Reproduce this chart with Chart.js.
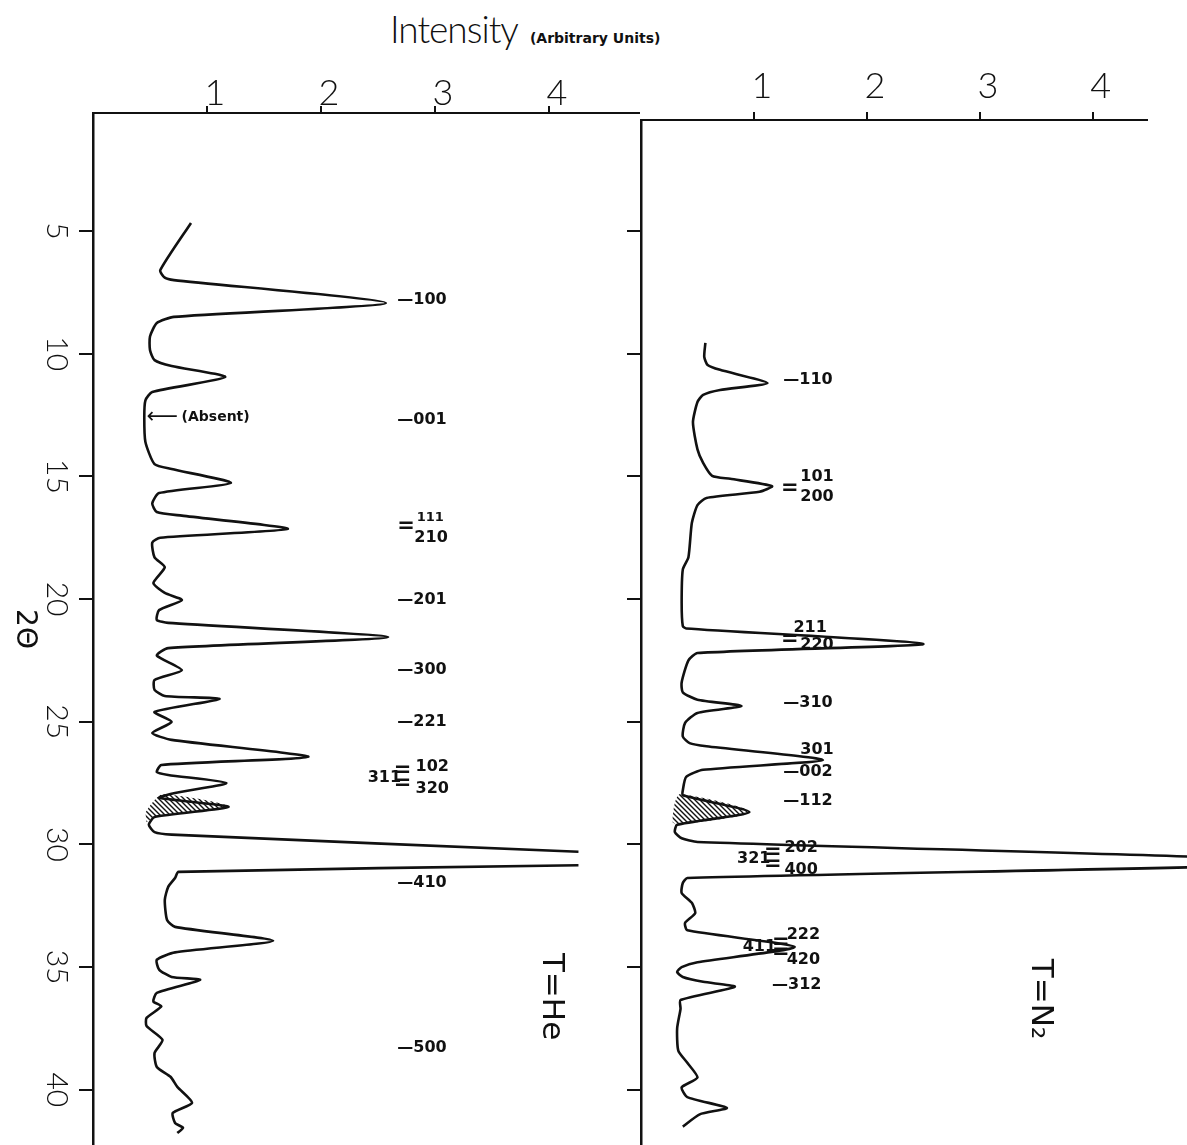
<!DOCTYPE html>
<html>
<head>
<meta charset="utf-8">
<script src="https://cdn.jsdelivr.net/npm/chart.js@4.4.1/dist/chart.umd.min.js"></script>
<style>
  body { margin: 0; background: #fff; width: 1187px; height: 1145px; overflow: hidden; position: relative; }
  canvas { position: absolute; top: 0; }
  #he { left: 0; }
  #n2 { left: 600px; }
  #title { position: absolute; left: 390px; top: 6px; white-space: nowrap; color: #111; }
  #title .main { font-family: Lato, "DejaVu Sans", sans-serif; font-weight: 300; font-size: 37px; letter-spacing: -1px; }
  #title .sub { font-family: "DejaVu Sans", sans-serif; font-weight: bold; font-size: 14px; margin-left: 12px; }
</style>
</head>
<body>
<div id="title"><span class="main">Intensity</span><span class="sub">(Arbitrary Units)</span></div>
<canvas id="he" width="640" height="1145"></canvas>
<canvas id="n2" width="587" height="1145"></canvas>
<script>
// axis ticks
const thetaTicks = [5, 10, 15, 20, 25, 30, 35, 40];
const intensityTicks = [1, 2, 3, 4];

// T = He trace (2θ in degrees, intensity in arbitrary units); null = pen lifted
const heTheta = [4.67, 6.6, 6.9, 7.0, 7.93, 8.5, 8.75, 9.3, 9.85, 10.26, 10.5, 10.95, 11.56, 11.9, 12.6,
  13.6, 14.5, 14.7, 15.27, 15.68, 16.1, 16.45, 16.6, 17.14, 17.5, 17.7, 18.3, 18.7, 19.35, 19.75,
  20.04, 20.45, 20.85, 20.97, 21.55, 22.0, 22.3, 22.9, 23.3, 23.7, 23.95, 24.07, 24.6, 25.0, 25.46,
  25.74, 26.43, 26.76, 27.05, 27.17, 27.5, 27.9, 28.1, 28.47, 28.88, 29.2, 29.5, 29.6, 30.3, 30.6,
  30.85, 31.12, 31.37, 31.73, 32.26, 33.08, 33.36, 33.93, 34.4, 34.7, 35.1, 35.4, 35.52, 36.05, 36.4,
  36.6, 37.07, 37.4, 37.97, 38.5, 39.07, 39.47, 39.88, 40.53, 40.94, 41.35, 41.55, 41.76];
const heIntensity = [0.86, 0.59, 0.63, 0.71, 2.57, 0.71, 0.56, 0.50, 0.50, 0.54, 0.69, 1.16, 0.52, 0.46, 0.45,
  0.46, 0.54, 0.69, 1.21, 0.58, 0.52, 0.56, 0.78, 1.71, 0.59, 0.52, 0.54, 0.63, 0.53, 0.63,
  0.78, 0.58, 0.56, 0.66, 2.59, 0.66, 0.56, 0.78, 0.54, 0.54, 0.63, 1.11, 0.54, 0.69, 0.52,
  0.69, 1.89, 0.60, 0.56, 0.66, 1.17, 0.72, 0.58, 1.19, 0.54, 0.49, 0.54, 0.69, 4.26, null,
  4.26, 0.75, 0.72, 0.66, 0.63, 0.65, 0.72, 1.58, 0.72, 0.56, 0.58, 0.69, 0.94, 0.56, 0.53,
  0.60, 0.47, 0.47, 0.61, 0.54, 0.56, 0.68, 0.74, 0.87, 0.70, 0.72, 0.79, 0.74];

// T = N2 trace
const n2Theta = [9.56, 10.13, 10.46, 10.66, 11.2, 11.48, 11.68, 11.97, 12.8, 13.9, 14.45, 14.98, 15.1, 15.4,
  15.63, 15.88, 16.17, 16.9, 18.3, 18.8, 20.16, 21.1, 21.2, 21.83, 22.2, 22.5, 23.4, 23.8, 24.1,
  24.36, 24.64, 25.05, 25.6, 25.87, 26.0, 26.56, 26.96, 27.25, 27.8, 28.0, 28.68, 29.2, 29.5, 29.75,
  29.9, 30.74, 31.37, 31.57, 31.98, 32.38, 32.8, 33.2, 33.5, 34.18, 34.8, 35.0, 35.2, 35.4, 35.6,
  35.8, 36.34, 36.7, 37.5, 38.4, 38.9, 39.5, 39.9, 40.3, 40.74, 41.0, 41.5];
const n2Intensity = [0.57, 0.56, 0.59, 0.70, 1.12, 0.70, 0.55, 0.50, 0.46, 0.50, 0.55, 0.63, 0.79, 1.16,
  1.05, 0.58, 0.50, 0.45, 0.42, 0.37, 0.36, 0.37, 0.40, 2.50, 0.50, 0.42, 0.36, 0.37, 0.50,
  0.89, 0.50, 0.39, 0.37, 0.43, 0.58, 1.61, 0.55, 0.40, 0.37, 0.37, 0.96, 0.32, 0.30, 0.36,
  0.50, 6.08, 0.41, 0.37, 0.36, 0.45, 0.48, 0.39, 0.41, 1.36, 0.50, 0.36, 0.32, 0.37, 0.55,
  0.83, 0.35, 0.35, 0.32, 0.33, 0.41, 0.50, 0.36, 0.41, 0.76, 0.52, 0.37];

// hatched peak outlines
const heHatchTheta = [28.7, 28.3, 27.95, 28.47, 28.88, 29.1];
const heHatchIntensity = [0.46, 0.52, 0.62, 1.19, 0.54, 0.47];
const n2HatchTheta = [28.9, 28.3, 27.95, 28.68, 29.2, 29.1];
const n2HatchIntensity = [0.28, 0.30, 0.35, 0.96, 0.32, 0.28];

// reflection indices: [text, intensity, 2θ]
const heLabels = [
  ['—100', 2.67, 7.8], ['—001', 2.67, 12.7], ['=', 2.67, 17.06], ['210', 2.82, 17.5],
  ['—201', 2.67, 20.04], ['—300', 2.67, 22.9], ['—221', 2.67, 25.0],
  ['311', 2.41, 27.3], ['=', 2.64, 26.98], ['=', 2.64, 27.5], ['102', 2.83, 26.84], ['320', 2.83, 27.74],
  ['—410', 2.67, 31.57], ['—500', 2.67, 38.3]
];
const heSmallLabels = [['111', 2.84, 16.68]];
const n2Labels = [
  ['—110', 1.26, 11.07], ['=', 1.24, 15.5], ['101', 1.41, 15.0], ['200', 1.41, 15.84],
  ['211', 1.35, 21.18], ['=', 1.24, 21.67], ['220', 1.41, 21.87],
  ['—310', 1.26, 24.23], ['301', 1.41, 26.15], ['—002', 1.26, 27.05], ['—112', 1.26, 28.23],
  ['321', 0.85, 30.58], ['=', 1.09, 30.35], ['=', 1.09, 30.84], ['202', 1.27, 30.14], ['400', 1.27, 31.04],
  ['411', 0.90, 34.18], ['=', 1.16, 34.0], ['=', 1.16, 34.4], ['222', 1.29, 33.69], ['420', 1.29, 34.7],
  ['—312', 1.16, 35.73]
];

const ink = '#111';
const labelFont = 'bold 16px "DejaVu Sans", sans-serif';

function toPoints(theta, intensity) {
  return theta.map((t, i) => ({ x: intensity[i], y: t }));
}

function hatchPattern(ctx) {
  const c = document.createElement('canvas');
  c.width = 5; c.height = 5;
  const g = c.getContext('2d');
  g.strokeStyle = ink;
  g.lineWidth = 1.4;
  g.beginPath();
  g.moveTo(-1, -1); g.lineTo(6, 6);
  g.moveTo(-1, 4); g.lineTo(1, 6);
  g.moveTo(4, -1); g.lineTo(6, 1);
  g.stroke();
  return ctx.createPattern(c, 'repeat');
}

// writes the hand-lettered annotations at data positions
const panelText = {
  id: 'panelText',
  afterDatasetsDraw(chart, args, opts) {
    const { ctx, scales: { x, y }, chartArea } = chart;
    ctx.save();
    ctx.fillStyle = ink;
    ctx.textBaseline = 'middle';
    ctx.textAlign = 'left';
    (opts.labels || []).forEach(([t, xv, yv]) => {
      ctx.font = t === '=' ? 'bold 21px "DejaVu Sans", sans-serif' : labelFont;
      ctx.fillText(t, x.getPixelForValue(xv), y.getPixelForValue(yv));
    });
    ctx.font = 'bold 13px "DejaVu Sans", sans-serif';
    (opts.small || []).forEach(([t, xv, yv]) => ctx.fillText(t, x.getPixelForValue(xv), y.getPixelForValue(yv)));
    if (opts.absent) {
      const px = x.getPixelForValue(opts.absent[0]), py = y.getPixelForValue(opts.absent[1]);
      ctx.font = '22px "DejaVu Sans", sans-serif';
      ctx.fillText('⟵', px, py);
      ctx.font = 'bold 14px "DejaVu Sans", sans-serif';
      ctx.fillText('(Absent)', px + 35, py);
    }
    // rotated texts (read top to bottom)
    const rot = (t, px, py, font) => {
      ctx.save();
      ctx.translate(px, py);
      ctx.rotate(Math.PI / 2);
      ctx.textAlign = 'center';
      ctx.font = font;
      ctx.fillText(t, 0, 0);
      ctx.restore();
    };
    if (opts.gas) {
      rot(opts.gas[0], x.getPixelForValue(opts.gas[1]), y.getPixelForValue(opts.gas[2]), '31px "DejaVu Sans", sans-serif');
    }
    if (opts.axisTitle) {
      rot(opts.axisTitle, 24, (chartArea.top + chartArea.bottom) / 2, '28px "DejaVu Sans", sans-serif');
    }
    ctx.restore();
  }
};

function drawPanel(id, o) {
  const canvas = document.getElementById(id);
  return new Chart(canvas, {
    type: 'line',
    data: {
      datasets: [
        {
          data: toPoints(o.theta, o.intensity),
          borderColor: ink, borderWidth: 2.6, pointRadius: 0,
          tension: 0.2, fill: false, clip: false
        },
        {
          data: toPoints(o.hatchTheta, o.hatchIntensity),
          borderWidth: 0, pointRadius: 0, tension: 0.3,
          fill: 'shape', backgroundColor: hatchPattern(canvas.getContext('2d'))
        }
      ]
    },
    options: {
      responsive: false,
      animation: false,
      events: [],
      layout: { autoPadding: false, padding: { top: 0, left: 0, bottom: 0, right: o.padRight } },
      plugins: {
        legend: { display: false },
        tooltip: { enabled: false },
        panelText: o.text
      },
      scales: {
        x: {
          type: 'linear', position: 'top', min: 0, max: o.xMax,
          afterBuildTicks: s => { s.ticks = intensityTicks.map(v => ({ value: v })); },
          afterFit: s => { s.height = o.axisH; s.paddingLeft = 0; s.paddingRight = 0; },
          grid: { drawOnChartArea: false, tickLength: o.xTickLen, color: ink, lineWidth: 2 },
          border: { display: true, color: ink, width: 2 },
          ticks: {
            color: ink, padding: o.xTickPad, labelOffset: 8, maxRotation: 0, minRotation: 0,
            font: { family: 'Lato, "DejaVu Sans", sans-serif', size: 36, weight: '300' }
          }
        },
        y: {
          type: 'linear', reverse: true, min: o.yMin, max: 42.25,
          afterBuildTicks: s => { s.ticks = thetaTicks.map(v => ({ value: v })); },
          afterFit: s => { s.width = o.axisW; s.paddingTop = 0; s.paddingBottom = 0; },
          grid: { drawOnChartArea: false, tickLength: 14, color: ink, lineWidth: 2 },
          border: { display: true, color: ink, width: 2.5 },
          ticks: {
            display: o.yLabels, color: ink, minRotation: -90, maxRotation: -90,
            crossAlign: 'center', padding: 5,
            font: { family: 'Lato, "DejaVu Sans", sans-serif', size: 30, weight: '300' }
          }
        }
      }
    },
    plugins: [panelText]
  });
}

drawPanel('he', {
  theta: heTheta, intensity: heIntensity,
  hatchTheta: heHatchTheta, hatchIntensity: heHatchIntensity,
  xMax: 4.8, yMin: 0.19, axisW: 93, axisH: 113, padRight: 0,
  xTickLen: 7, xTickPad: -9, yLabels: true,
  text: { labels: heLabels, small: heSmallLabels, absent: [0.47, 12.58], gas: ['T=He', 4.02, 36.2], axisTitle: '2Θ' }
});

drawPanel('n2', {
  theta: n2Theta, intensity: n2Intensity,
  hatchTheta: n2HatchTheta, hatchIntensity: n2HatchIntensity,
  xMax: 4.48, yMin: 0.477, axisW: 41, axisH: 120, padRight: 40,
  xTickLen: 8, xTickPad: 4, yLabels: false,
  text: { labels: n2Labels, gas: ['T=N₂', 3.53, 36.3] }
});
</script>
</body>
</html>
